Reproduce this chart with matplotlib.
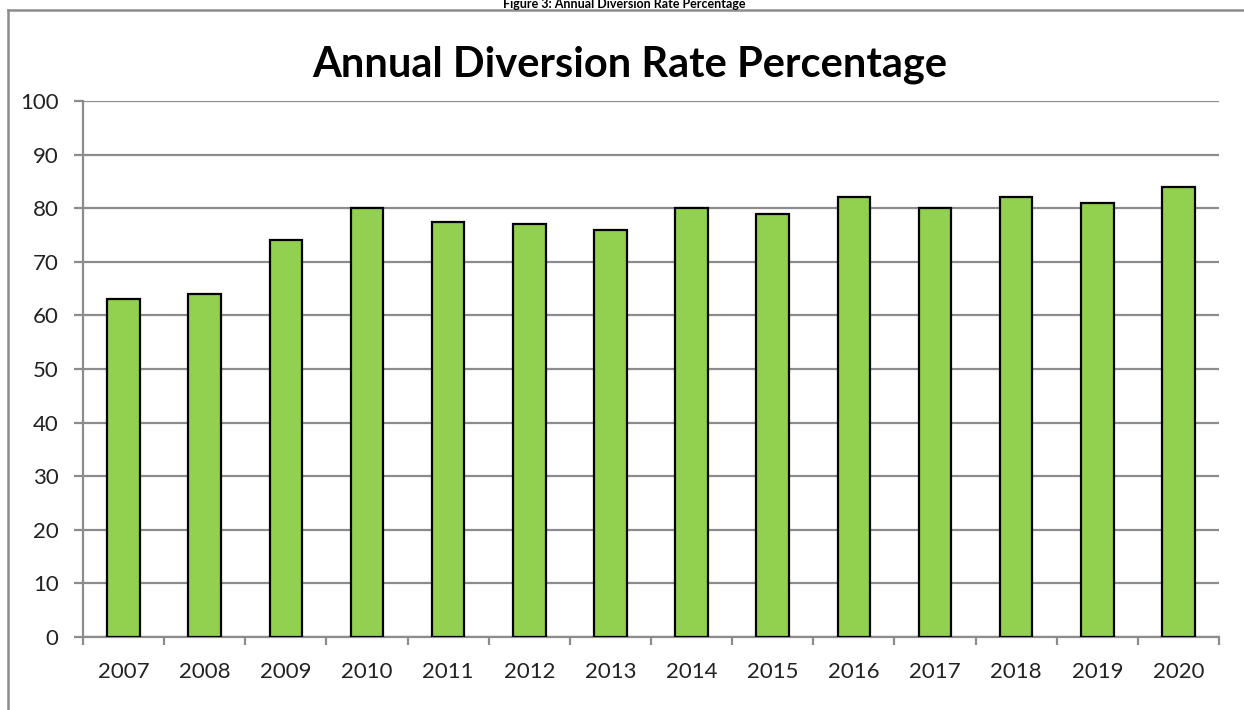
import matplotlib.pyplot as plt
from matplotlib.lines import Line2D

years = ['2007', '2008', '2009', '2010', '2011', '2012', '2013',
         '2014', '2015', '2016', '2017', '2018', '2019', '2020']
rates = [63, 64, 74, 80, 77.5, 77, 76, 80, 79, 82, 80, 82, 81, 84]
y_ticks = list(range(0, 101, 10))

plt.rcParams['font.family'] = ['Lato', 'DejaVu Sans']

fig = plt.figure(figsize=(12.44, 7.10), dpi=100)
ax = fig.add_axes([83 / 1244, 1 - 637 / 710, (1219 - 83) / 1244, (637 - 101) / 710])

grid_col = '#8c8c8c'
x = list(range(len(years)))
ax.bar(x, rates, width=0.4, color='#92D050', edgecolor='black', linewidth=1.6, zorder=3)

ax.set_ylim(0, 100)
ax.set_xlim(-0.5, len(years) - 0.5)
ax.set_yticks(y_ticks)
ax.set_xticks(x)
ax.set_xticklabels(years)
ax.set_xticks([i - 0.5 for i in range(len(years) + 1)], minor=True)

ax.grid(axis='y', color=grid_col, linewidth=1.6, zorder=0)
ax.set_axisbelow(True)
for s in ['top', 'right']:
    ax.spines[s].set_visible(False)
for s in ['left', 'bottom']:
    ax.spines[s].set_color(grid_col)
    ax.spines[s].set_linewidth(1.6)

ax.tick_params(axis='x', which='major', length=0, pad=18, labelsize=16, labelcolor='#222222')
ax.tick_params(axis='x', which='minor', length=5.5, width=1.6, color=grid_col)
ax.tick_params(axis='y', length=6.5, width=1.6, color=grid_col, pad=11,
               labelsize=16, labelcolor='#222222')

fig.text(630 / 1244, 1 - 65 / 710, 'Annual Diversion Rate Percentage', ha='center', va='center',
         fontsize=30, fontweight='bold', color='black')

# caption above the chart frame
fig.text(624 / 1244, 1 - 8.5 / 710, 'Figure 3: Annual Diversion Rate Percentage', ha='center',
         va='baseline', fontsize=9, fontweight='bold', color='black')

# chart frame (left and top edges only visible)
fig.add_artist(Line2D([8 / 1244, 8 / 1244], [0, 1 - 10 / 710], transform=fig.transFigure,
                      color=grid_col, linewidth=1.8))
fig.add_artist(Line2D([8 / 1244, 1], [1 - 10 / 710, 1 - 10 / 710], transform=fig.transFigure,
                      color=grid_col, linewidth=1.8))

fig.savefig('out.png', dpi=100)
